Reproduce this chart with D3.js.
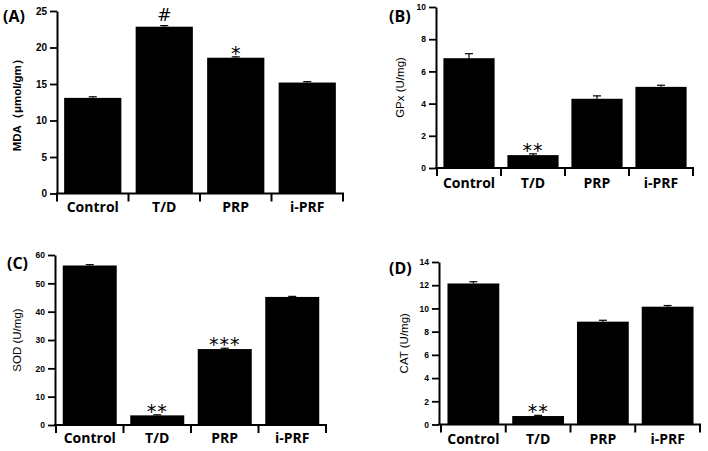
<!DOCTYPE html>
<html><head><meta charset="utf-8">
<script src="https://cdn.jsdelivr.net/npm/d3@7"></script>
<style>
html,body{margin:0;padding:0;background:#fff;}
svg{display:block;}
.tick text{font-family:"Liberation Sans",Arial,sans-serif;font-weight:bold;fill:#000;}
</style></head>
<body>
<svg id="c" width="708" height="451"></svg>
<script>
const categories = ["Control", "T/D", "PRP", "i-PRF"];

const mdaValues = [13.1, 22.85, 18.6, 15.2];
const mdaErrors = [0.15, 0.15, 0.12, 0.12];
const mdaTicks = [0, 5, 10, 15, 20, 25];
const mdaMarks = ["", "#", "*", ""];

const gpxValues = [6.82, 0.8, 4.3, 5.04];
const gpxErrors = [0.28, 0.08, 0.18, 0.1];
const gpxTicks = [0, 2, 4, 6, 8, 10];
const gpxMarks = ["", "**", "", ""];

const sodValues = [56.3, 3.4, 26.8, 45.2];
const sodErrors = [0.3, 0.2, 0.3, 0.2];
const sodTicks = [0, 10, 20, 30, 40, 50, 60];
const sodMarks = ["", "**", "***", ""];

const catValues = [12.15, 0.73, 8.86, 10.15];
const catErrors = [0.15, 0.06, 0.12, 0.1];
const catTicks = [0, 2, 4, 6, 8, 10, 12, 14];
const catMarks = ["", "**", "", ""];

const panels = [
  {tag:"(A)", label:"MDA（μmol/gm）", values:mdaValues, errors:mdaErrors, ticks:mdaTicks, marks:mdaMarks,
   ax:57, x0:57, x1:343, yTop:11, yBot:193.5, tagX:3, tagY:22, labX:17, tickFont:10, labFont:11.5, labWeight:"bold", catY:212},
  {tag:"(B)", label:"GPx (U/mg)", values:gpxValues, errors:gpxErrors, ticks:gpxTicks, marks:gpxMarks,
   ax:436, x0:437, x1:693, yTop:7, yBot:168, tagX:389, tagY:22, labX:400, tickFont:8.5, labFont:11.5, labWeight:"normal", catY:188},
  {tag:"(C)", label:"SOD (U/mg)", values:sodValues, errors:sodErrors, ticks:sodTicks, marks:sodMarks,
   ax:55, x0:56, x1:326, yTop:255, yBot:425, tagX:7, tagY:269, labX:17, tickFont:8.5, labFont:11.5, labWeight:"normal", catY:443},
  {tag:"(D)", label:"CAT (U/mg)", values:catValues, errors:catErrors, ticks:catTicks, marks:catMarks,
   ax:439, x0:441, x1:700, yTop:262, yBot:424.5, tagX:389, tagY:274, labX:404, tickFont:8.5, labFont:11.5, labWeight:"normal", catY:444}
];

const svg = d3.select("#c");

panels.forEach(p => {
  const g = svg.append("g");
  const yMax = p.ticks[p.ticks.length - 1];
  const y = d3.scaleLinear().domain([0, yMax]).range([p.yBot, p.yTop]);
  const x = d3.scaleBand().domain(categories).range([p.x0, p.x1]).paddingInner(0.2).paddingOuter(0.1);
  const step = x.step();

  // bars
  g.selectAll("rect.bar").data(categories).join("rect")
    .attr("x", d => x(d)).attr("width", x.bandwidth())
    .attr("y", (d, i) => y(p.values[i]))
    .attr("height", (d, i) => y(0) - y(p.values[i]))
    .attr("fill", "#000");

  // error bars (upper)
  categories.forEach((c, i) => {
    const cx = x(c) + x.bandwidth() / 2;
    const top = y(p.values[i] + p.errors[i]);
    g.append("line").attr("x1", cx).attr("x2", cx).attr("y1", y(p.values[i])).attr("y2", top)
      .attr("stroke", "#000").attr("stroke-width", 1.2);
    g.append("line").attr("x1", cx - 4).attr("x2", cx + 4).attr("y1", top).attr("y2", top)
      .attr("stroke", "#000").attr("stroke-width", 1.2);
    const m = p.marks[i];
    if (m) {
      const isHash = m === "#";
      g.append("text").attr("x", cx).attr("y", isHash ? top - 5 : top + 3)
        .attr("text-anchor", "middle")
        .attr("font-family", "'DejaVu Sans',sans-serif")
        .attr("font-size", isHash ? 17 : 19)
        .attr("letter-spacing", m.length > 1 ? "1px" : "0")
        .text(m);
    }
  });

  // y axis
  const yAxis = d3.axisLeft(y).tickValues(p.ticks).tickSize(7).tickSizeOuter(0).tickPadding(3);
  const ya = g.append("g").attr("transform", `translate(${p.ax},0)`).call(yAxis);
  ya.select(".domain").attr("stroke", "#000").attr("stroke-width", 2);
  ya.selectAll(".tick line").attr("stroke", "#000").attr("stroke-width", 1.8);
  ya.selectAll(".tick text").attr("font-size", p.tickFont);

  // x axis: baseline with ticks at band boundaries
  g.append("line").attr("x1", p.ax - 1).attr("x2", p.x1 + 1).attr("y1", y(0)).attr("y2", y(0))
    .attr("stroke", "#000").attr("stroke-width", 2);
  const bounds = categories.map(c => x(c) - step * 0.1).concat([x(categories[3]) - step * 0.1 + step]);
  g.selectAll("line.xt").data(bounds).join("line")
    .attr("x1", d => d).attr("x2", d => d).attr("y1", y(0)).attr("y2", y(0) + 8)
    .attr("stroke", "#000").attr("stroke-width", 2);

  // category labels
  g.selectAll("text.cat").data(categories).join("text")
    .attr("x", d => x(d) + x.bandwidth() / 2).attr("y", p.catY)
    .attr("text-anchor", "middle")
    .attr("font-family", "'Open Sans',sans-serif").attr("font-weight", "bold").attr("font-size", 14)
    .text(d => d);

  // y label
  const cy = (p.yTop + p.yBot) / 2;
  g.append("text").attr("transform", `translate(${p.labX},${cy}) rotate(-90)`)
    .attr("text-anchor", "middle").attr("dy", "0.35em")
    .attr("font-family", "'Liberation Sans',Arial,sans-serif").attr("font-size", p.labFont)
    .attr("font-weight", p.labWeight)
    .text(p.label);

  // panel tag
  g.append("text").attr("x", p.tagX).attr("y", p.tagY)
    .attr("font-family", "'Open Sans',sans-serif").attr("font-weight", "bold").attr("font-size", 16)
    .text(p.tag);
});
</script>
</body></html>
